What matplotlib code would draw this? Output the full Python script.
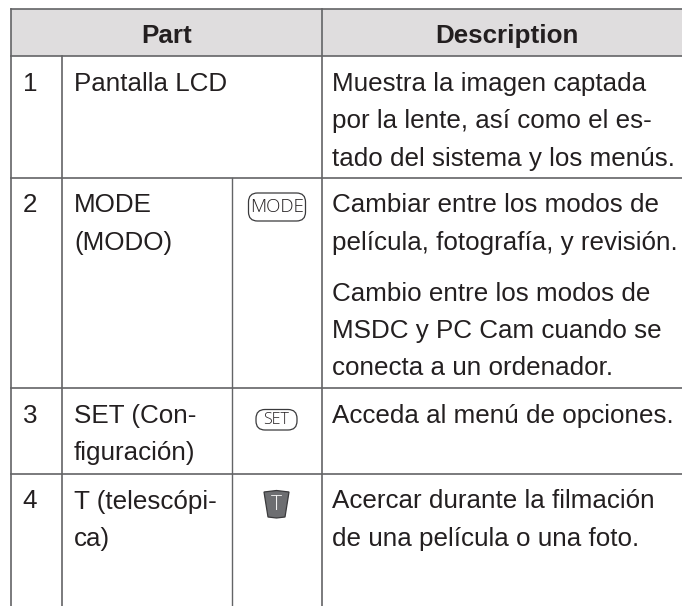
import matplotlib
matplotlib.use("Agg")
import matplotlib.pyplot as plt
from matplotlib.patches import FancyBboxPatch, Polygon, Rectangle

headers = ["Part", "Description"]
numbers = ["1", "2", "3", "4"]
parts = [["Pantalla LCD"],
         ["MODE", "(MODO)"],
         ["SET (Con-", "figuración)"],
         ["T (telescópi-", "ca)"]]
descriptions = [["Muestra la imagen captada", "por la lente, así como el es-", "tado del sistema y los menús."],
                ["Cambiar entre los modos de", "película, fotografía, y revisión."],
                ["Acceda al menú de opciones."],
                ["Acercar durante la filmación", "de una película o una foto."]]
extra_description = ["Cambio entre los modos de", "MSDC y PC Cam cuando se", "conecta a un ordenador."]

INK = "#231f20"
LINE = "#636466"
ICON = ["Open Sans", "DejaVu Sans"]
plt.rcParams["font.family"] = ["Liberation Sans", "DejaVu Sans"]

fig = plt.figure(figsize=(6.82, 6.06), dpi=100)
ax = fig.add_axes([0, 0, 1, 1])
ax.set_xlim(0, 682)
ax.set_ylim(606, 0)
ax.axis("off")

x_left, x_num, x_icon, x_desc, x_right = 10.7, 62, 231.7, 321.5, 682
y_top, y_head, y_end = 9, 56, 606
row_tops = [56, 177.5, 387.7, 473.5]
row_ends = [177.5, 387.7, 473.5, 606]

# header band
ax.add_patch(Rectangle((x_left, y_top), x_right - x_left, y_head - y_top, fc="#dfddde", ec="none", zorder=0))
ax.text(166.5, 43, headers[0], fontsize=18.7, fontweight="bold", color=INK, ha="center", va="baseline")
ax.text(507, 43, headers[1], fontsize=18.7, fontweight="bold", color=INK, ha="center", va="baseline")

# rules
lw = 1.2
ax.plot([x_left, x_right], [y_top, y_top], color=LINE, lw=lw)
for y in [y_head] + row_ends[:-1]:
    ax.plot([x_left, x_right], [y, y], color=LINE, lw=lw)
ax.plot([x_left, x_left], [y_top, y_end], color=LINE, lw=lw)
ax.plot([x_num, x_num], [y_head, y_end], color=LINE, lw=lw)
ax.plot([x_desc, x_desc], [y_top, y_end], color=LINE, lw=lw)
ax.plot([x_icon, x_icon], [row_tops[1], y_end], color=LINE, lw=1.0)

LINE_H = 37.3
FS = 18.7


def put_lines(x, y, lines):
    for i, s in enumerate(lines):
        ax.text(x, y + i * LINE_H, s, fontsize=FS, color=INK, ha="left", va="baseline")


for i, top in enumerate(row_tops):
    ax.text(22.7, top + 35, numbers[i], fontsize=FS, color=INK, ha="left", va="baseline")
    put_lines(74, top + 35, parts[i])
    put_lines(332, top + 35, descriptions[i])
put_lines(332, 300.7, extra_description)

# key icons
ax.add_patch(FancyBboxPatch((248.5, 193), 57, 28, boxstyle="round,pad=0,rounding_size=9", fc="white", ec="#3a3a3c", lw=0.9))
ax.text(277, 207.5, "MODE", fontsize=13.5, color=INK, ha="center", va="center", family=ICON, fontweight="light")
ax.add_patch(FancyBboxPatch((256, 409.5), 41, 20.5, boxstyle="round,pad=0,rounding_size=9", fc="white", ec="#3a3a3c", lw=0.9))
ax.text(276.5, 420, "SET", fontsize=11.5, color=INK, ha="center", va="center", family=ICON, fontweight="light")
ax.add_patch(Polygon([(264, 492), (276.5, 490.5), (289, 492), (285, 517), (276.5, 518), (268, 517)],
                     closed=True, fc="#6d6e71", ec="#3a3a3c", lw=0.9))
ax.text(276.5, 505, "T", fontsize=15, color="#f2f2f2", ha="center", va="center", family=ICON, fontweight="light")

fig.savefig("out.png", dpi=100)
